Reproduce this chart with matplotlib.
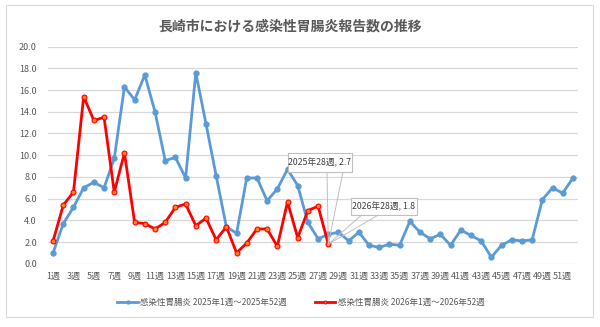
import numpy as np
import matplotlib
matplotlib.use("Agg")
import matplotlib.pyplot as plt
from matplotlib.patches import Rectangle, Polygon

plt.rcParams['font.family'] = ['Noto Sans CJK JP', 'DejaVu Sans']

weeks = list(range(1, 53))
cases_2025 = [1.0, 3.7, 5.2, 7.0, 7.5, 7.0, 9.7, 16.3, 15.1, 17.4,
              14.0, 9.5, 9.8, 7.9, 17.6, 12.9, 8.1, 3.4, 2.8, 7.9,
              7.9, 5.8, 6.9, 8.7, 7.2, 3.8, 2.3, 2.7, 2.9, 2.1,
              2.9, 1.7, 1.5, 1.8, 1.7, 3.9, 2.9, 2.3, 2.7, 1.7,
              3.1, 2.6, 2.1, 0.6, 1.7, 2.2, 2.1, 2.2, 5.9, 7.0,
              6.5, 7.9]
cases_2026 = [2.1, 5.4, 6.6, 15.4, 13.2, 13.5, 6.6, 10.2, 3.8, 3.7,
              3.2, 3.8, 5.2, 5.5, 3.5, 4.2, 2.2, 3.4, 1.0, 1.9,
              3.2, 3.2, 1.6, 5.7, 2.4, 4.9, 5.3, 1.8]
label_2025 = "感染性胃腸炎 2025年1週～2025年52週"
label_2026 = "感染性胃腸炎 2026年1週～2026年52週"
xlabels = [f"{w}週" for w in weeks]

gray = "#595959"
blue = "#5B9BD5"
red = "#FF0000"

fig = plt.figure(figsize=(6.0, 3.27), dpi=100)
# chart area border
fig.patches.append(Rectangle((6/600, 1 - 317/327), 587/600, 312/327,
                             transform=fig.transFigure, fill=False,
                             edgecolor="#D9D9D9", lw=0.8))

ax = fig.add_axes([48/600, 1 - 263.7/327, 530/600, 217/327])
x = np.array(weeks)
ax.plot(x, cases_2025, color=blue, lw=2, marker="o", ms=3.5,
        mfc=blue, mec=blue, label=label_2025, zorder=3)
ax.plot(x[:len(cases_2026)], cases_2026, color=red, lw=2, marker="o", ms=3.5,
        mfc="#FF7F27", mec=red, mew=0.8, label=label_2026, zorder=4)

ax.set_xlim(0.5, 52.5)
ax.set_ylim(0, 20)
ax.set_yticks(np.arange(0, 20.1, 2))
ax.set_yticklabels([f"{v:.1f}" for v in np.arange(0, 20.1, 2)])
ax.set_xticks(x[::2])
ax.set_xticklabels(xlabels[::2])
ax.tick_params(axis="both", length=0, labelsize=6.5, colors=gray)
ax.tick_params(axis="y", pad=8)
ax.tick_params(axis="x", pad=6)
for s in ax.spines.values():
    s.set_visible(False)
ax.grid(axis="y", color="#D9D9D9", lw=0.9)
ax.set_axisbelow(True)

# data callouts
def callout(xi, yi, text, bx, by, bw, bh, w0, w1):
    box = Rectangle((bx, by), bw, bh, transform=None, fill=True,
                    facecolor="white", edgecolor="#BFBFBF", lw=0.8, zorder=5)
    fig.patches.append(box)
    px, py = ax.transData.transform((xi, yi))
    wedge = Polygon([(w0, by), (px, py), (w1, by)], closed=False,
                    transform=None, fill=False, edgecolor="#BFBFBF",
                    lw=0.7, zorder=5)
    fig.patches.append(wedge)
    fig.text(bx + bw / 2, by + bh / 2, text, transform=None,
             ha="center", va="center", fontsize=6.3, color="#404040", zorder=6)

H = 327
callout(28, cases_2026[27], "2025年28週, 2.7", 288, H - 172, 64, 19, 327, 343)
callout(28, cases_2026[27], "2026年28週, 1.8", 351, H - 215, 66, 17, 361.7, 378.3)

fig.text(290/600, 1 - 27/327, "長崎市における感染性胃腸炎報告数の推移",
         ha="center", va="center", fontsize=10, fontweight="bold", color=gray)

fig.legend(loc="center", bbox_to_anchor=(301/600, 1 - 302/327), ncol=2,
           frameon=False, fontsize=6.1, labelcolor=gray, handlelength=2.4,
           handletextpad=0.3, columnspacing=3.3, markerscale=0.6)

fig.savefig("out.png", dpi=100)
